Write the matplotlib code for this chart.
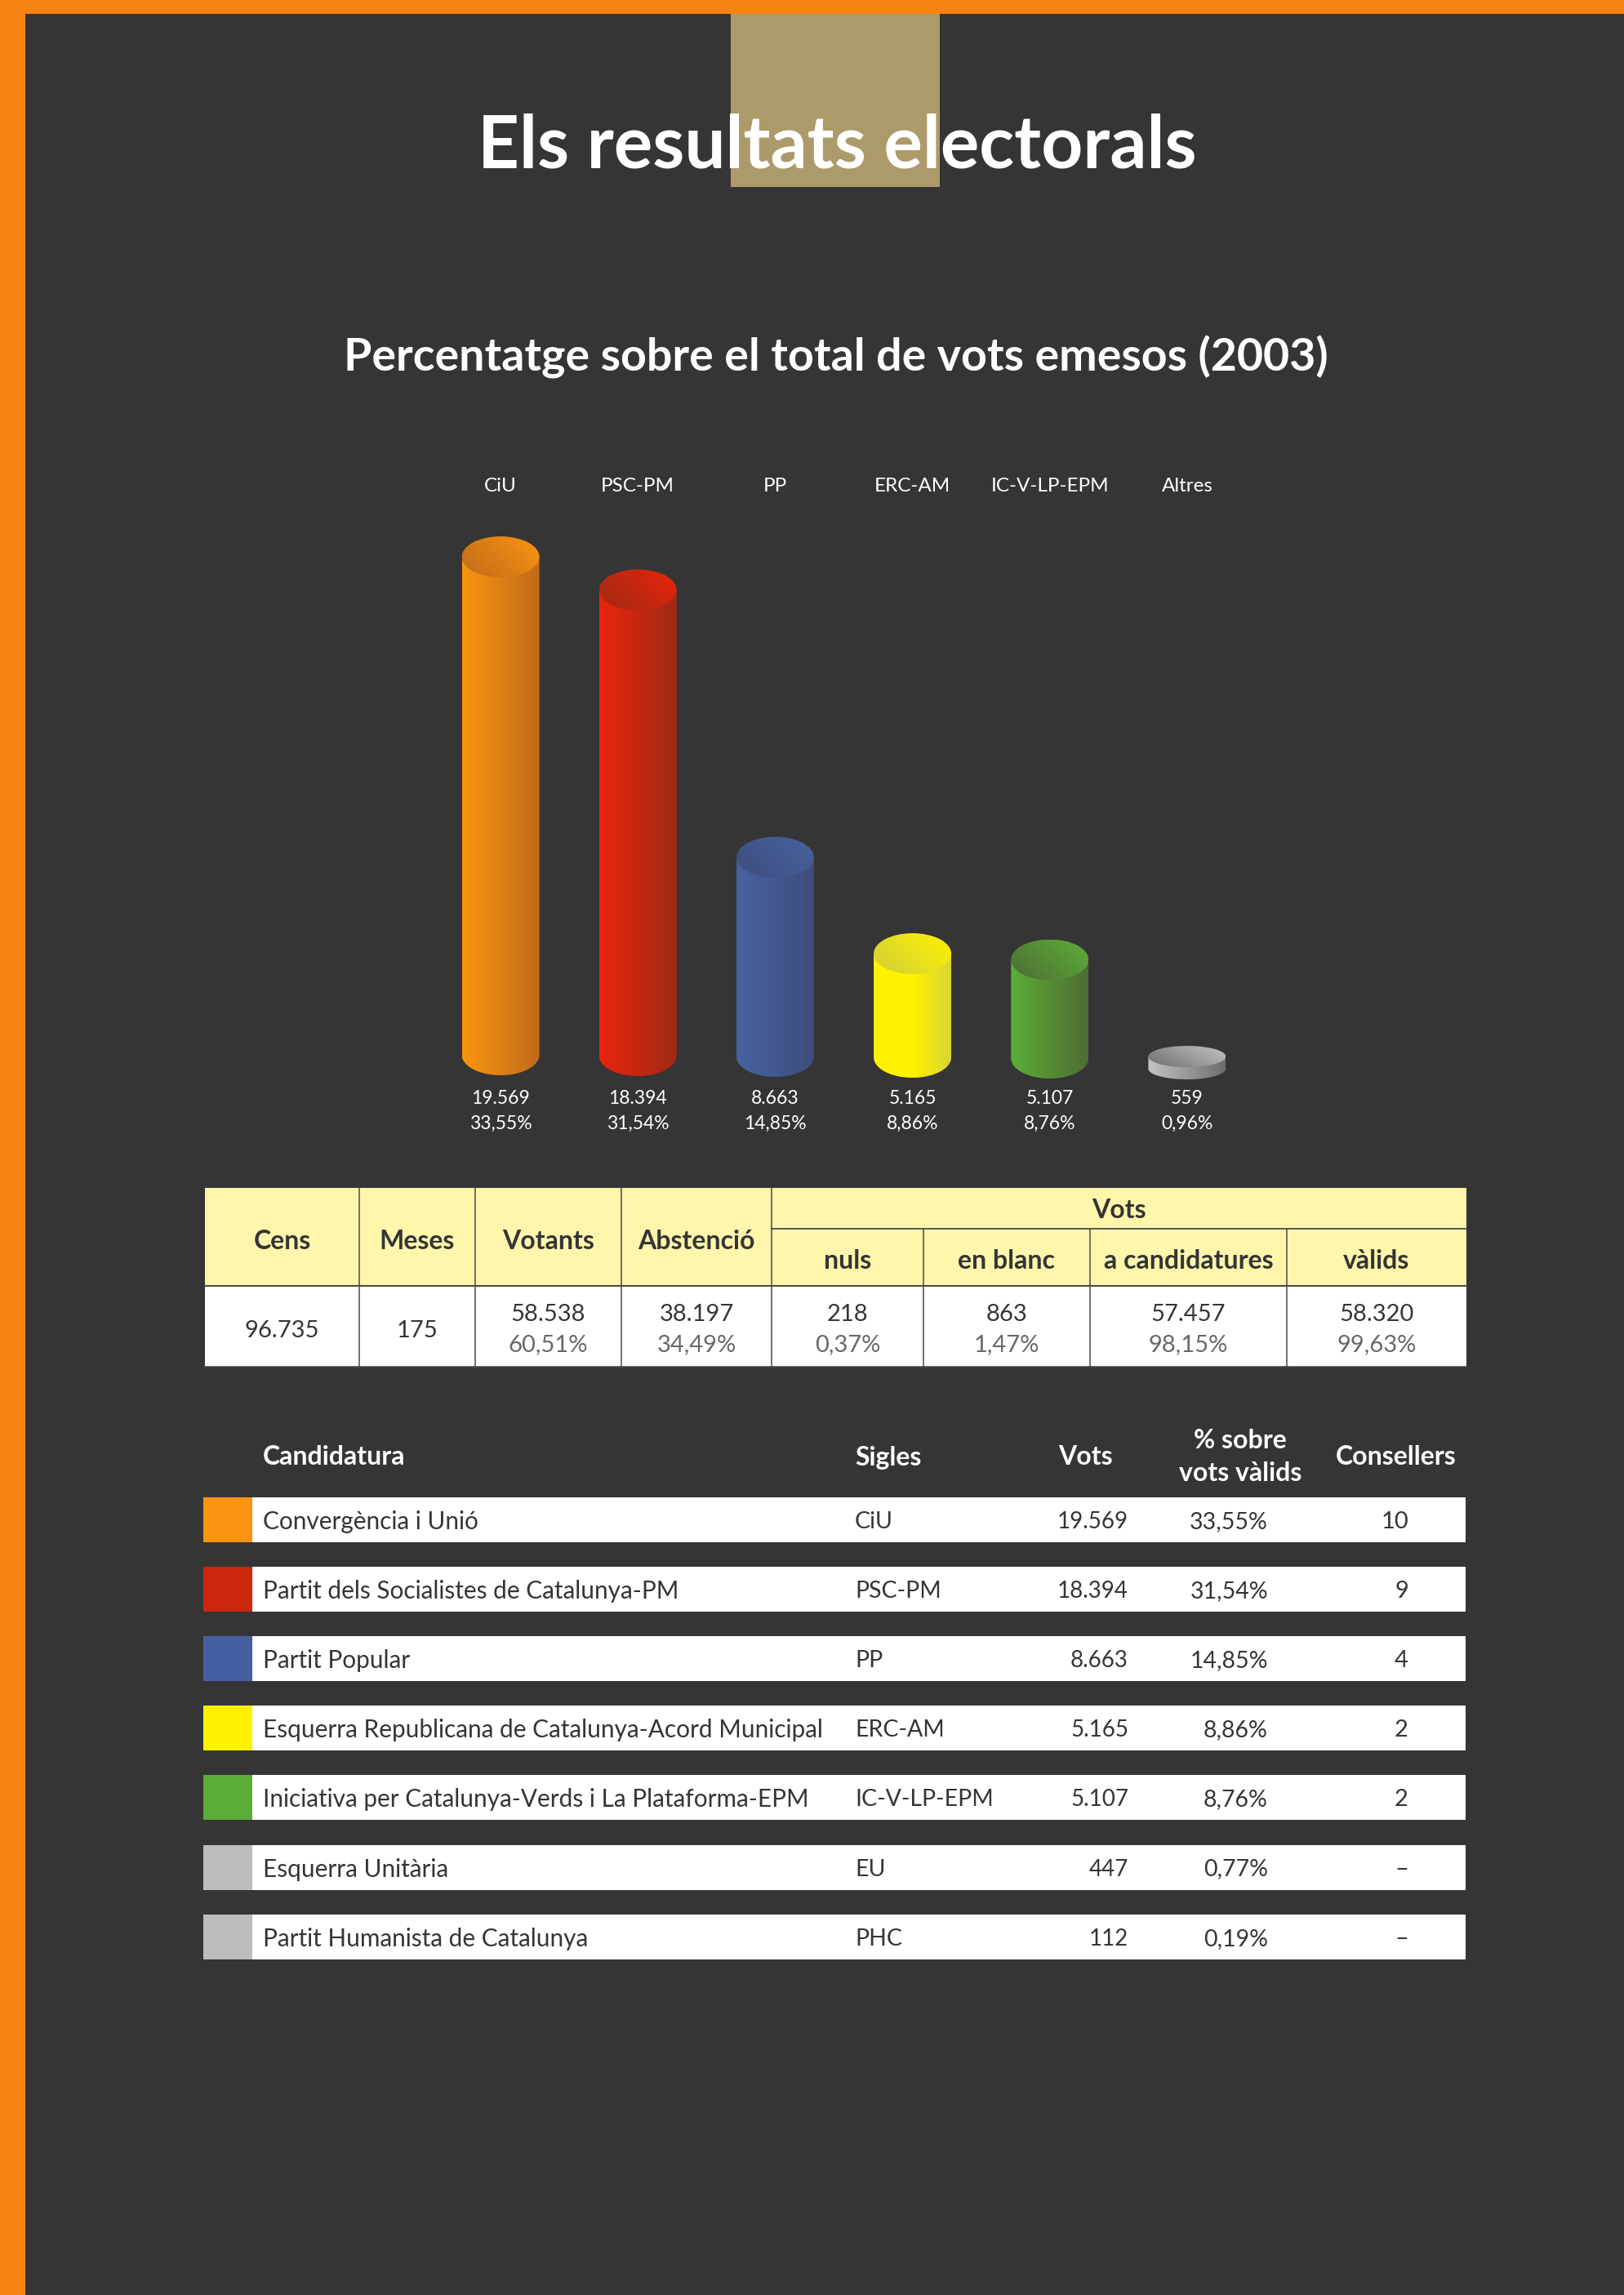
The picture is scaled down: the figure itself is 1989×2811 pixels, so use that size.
import numpy as np
import matplotlib
matplotlib.use('Agg')
import matplotlib.pyplot as plt
from matplotlib.colors import to_rgb
from matplotlib.patches import Rectangle, Ellipse, PathPatch
from matplotlib.path import Path

W, H = 1989, 2811

# Chart data
parties = ['CiU', 'PSC-PM', 'PP', 'ERC-AM', 'IC-V-LP-EPM', 'Altres']
votes = [19569, 18394, 8663, 5165, 5107, 559]
vote_labels = ['19.569', '18.394', '8.663', '5.165', '5.107', '559']
pct_labels = ['33,55%', '31,54%', '14,85%', '8,86%', '8,76%', '0,96%']

# The printed bars are not proportional, this is the scale read off the picture
scale_votes = [0, 559, 5107, 5165, 8663, 19569, 25000]
scale_height = [0, 15, 120.5, 127, 244, 610, 792]

# Summary table
summary_heads = ['Cens', 'Meses', 'Votants', 'Abstenció']
votes_heads = ['nuls', 'en blanc', 'a candidatures', 'vàlids']
summary_main = ['96.735', '175', '58.538', '38.197', '218', '863', '57.457', '58.320']
summary_sub = ['', '', '60,51%', '34,49%', '0,37%', '1,47%', '98,15%', '99,63%']

# Candidates table
names = ['Convergència i Unió', 'Partit dels Socialistes de Catalunya-PM', 'Partit Popular',
         'Esquerra Republicana de Catalunya-Acord Municipal',
         'Iniciativa per Catalunya-Verds i La Plataforma-EPM', 'Esquerra Unitària',
         'Partit Humanista de Catalunya']
sigles = ['CiU', 'PSC-PM', 'PP', 'ERC-AM', 'IC-V-LP-EPM', 'EU', 'PHC']
cand_votes = ['19.569', '18.394', '8.663', '5.165', '5.107', '447', '112']
cand_pct = ['33,55%', '31,54%', '14,85%', '8,86%', '8,76%', '0,77%', '0,19%']
seats = ['10', '9', '4', '2', '2', '–', '–']

# Colours
BG = '#353535'
ORANGE = '#F58211'
TAN = '#AD9A6A'
CREAM = '#FFF6AC'
LINE = '#4A4A4A'
GREY_TEXT = '#68686C'
swatches = ['#FB9410', '#CC260D', '#465FA0', '#FFF200', '#5BAC38', '#BDBDBD', '#BDBDBD']
body_colors = [['#FA9510', '#C26A1C'], ['#EA240C', '#A02A14'], ['#4663A0', '#3E4D7C'],
               ['#FFF200', '#FFF200', '#D8D535'], ['#5BAF38', '#4E6C33'], ['#C4C4C4', '#6E6E72']]
cap_colors = [['#C26A1C', '#FA9510'], ['#A02A14', '#EA240C'], ['#3E4D7C', '#4663A0'],
              ['#D0CE3A', '#FFF200'], ['#4E6C33', '#5BAF38'], ['#6E6E72', '#C4C4C4']]

plt.rcParams['font.family'] = ['Lato', 'DejaVu Sans']


def to_px(vals):
    return np.interp(vals, scale_votes, scale_height)


def from_px(vals):
    return np.interp(vals, scale_height, scale_votes)


def ramp(colors, t):
    stops = np.linspace(0, 1, len(colors))
    rgb = np.array([to_rgb(c) for c in colors])
    return np.stack([np.interp(t, stops, rgb[:, k]) for k in range(3)], axis=-1)


def txt(x, y, s, size, color='white', weight='normal', ha='center'):
    page.text(x, y, s, fontsize=size, color=color, fontweight=weight, ha=ha, va='center')


def cylinder(cx, top, bottom_edge, ry, body, cap):
    rx = 47.5
    base = bottom_edge - ry
    # body with rounded bottom
    a = np.linspace(0, np.pi, 60)
    xs = np.r_[cx - rx, cx + rx, cx + rx * np.cos(a)]
    ys = np.r_[top, top, base + ry * np.sin(a)]
    clip = PathPatch(Path(np.c_[xs, ys]), transform=page.transData, fc='none', ec='none')
    page.add_patch(clip)
    grad = ramp(body, np.linspace(0, 1, 200))[None, :, :]
    im = page.imshow(grad, extent=(cx - rx, cx + rx, bottom_edge, top), aspect='auto', zorder=2)
    im.set_clip_path(clip)
    # top ellipse with diagonal shading
    ell = Ellipse((cx, top), 2 * rx, 2 * ry, transform=page.transData, fc='none', ec='none')
    page.add_patch(ell)
    u, v = np.meshgrid(np.linspace(0, 1, 120), np.linspace(0, 1, 120))
    shade = np.clip(0.65 * u + 0.35 * (1 - v), 0, 1)
    im2 = page.imshow(ramp(cap, shade), extent=(cx - rx, cx + rx, top + ry, top - ry),
                      aspect='auto', zorder=3)
    im2.set_clip_path(ell)


fig = plt.figure(figsize=(W / 100, H / 100), dpi=100, facecolor=BG)
page = fig.add_axes([0, 0, 1, 1])
page.axis('off')

# Frame and title
page.add_patch(Rectangle((0, 0), W, 17, fc=ORANGE, ec='none'))
page.add_patch(Rectangle((0, 0), 31, H, fc=ORANGE, ec='none'))
page.add_patch(Rectangle((895.5, 17), 255.5, 212, fc=TAN, ec='none'))
txt(1025, 179, 'Els resultats electorals', 64, weight='bold')
txt(1024, 437, 'Percentatge sobre el total de vots emesos (2003)', 40, weight='bold')

# Invisible axes that hold the vote scale of the bars
chart = fig.add_axes([529 / W, (H - 1300) / H, 1009 / W, to_px(20000) / H])
chart.set_xlim(-0.5, 5.5)
chart.set_yscale('function', functions=(to_px, from_px))
chart.set_ylim(0, 20000)
chart.axis('off')

for i, party in enumerate(parties):
    x0, y0 = chart.transData.transform((i, 0))
    _, y1 = chart.transData.transform((i, votes[i]))
    cx = x0
    height = y1 - y0
    bottom_edge = 1317 + (cx - 613) * 0.006
    ry = 25 if votes[i] > 1000 else 13
    cylinder(cx, bottom_edge - ry - height, bottom_edge, ry, body_colors[i], cap_colors[i])
    txt(cx, 595, party, 17.5)
    txt(cx, 1346, vote_labels[i], 16.5)
    txt(cx, 1376, pct_labels[i], 16.5)

# Summary table
t_left, t_right = 251, 1796
t_top, t_mid, t_head, t_bot = 1455, 1505, 1575, 1674
cols = [251, 440, 582, 761, 945, 1131, 1335, 1576, 1796]
page.add_patch(Rectangle((t_left, t_top), t_right - t_left, t_head - t_top, fc=CREAM, ec='none', zorder=1))
page.add_patch(Rectangle((t_left, t_head), t_right - t_left, t_bot - t_head, fc='white', ec='none', zorder=1))
for x in cols[1:-1]:
    page.plot([x, x], [t_mid if x > 945 else t_top, t_bot], color=LINE, lw=1.1, zorder=2)
page.plot([945, t_right], [t_mid, t_mid], color=LINE, lw=1.3, zorder=2)
page.plot([t_left, t_right], [t_head, t_head], color=LINE, lw=1.5, zorder=2)
page.plot([t_left, t_right], [t_bot, t_bot], color=LINE, lw=1.1, zorder=2)
centers = [(a + b) / 2 for a, b in zip(cols[:-1], cols[1:])]
for i, head in enumerate(summary_heads):
    txt(centers[i], 1520, head, 23, BG, 'bold')
txt(1370.5, 1483, 'Vots', 23, BG, 'bold')
for i, head in enumerate(votes_heads):
    txt(centers[i + 4], 1544, head, 23, BG, 'bold')
for i, val in enumerate(summary_main):
    if summary_sub[i]:
        txt(centers[i], 1610, val, 21, BG)
        txt(centers[i], 1647, summary_sub[i], 21, GREY_TEXT)
    else:
        txt(centers[i], 1630, val, 21, BG)

# Candidates table
txt(322, 1785, 'Candidatura', 23, weight='bold', ha='left')
txt(1047, 1785, 'Sigles', 23, weight='bold', ha='left')
txt(1329, 1785, 'Vots', 23, weight='bold')
txt(1519, 1765, '% sobre', 23, weight='bold')
txt(1519, 1804, 'vots vàlids', 23, weight='bold')
txt(1710, 1785, 'Consellers', 23, weight='bold')
for i, name in enumerate(names):
    top = 1834 + 85.1 * i
    page.add_patch(Rectangle((309, top), 1795 - 309, 55, fc='white', ec='none', zorder=1))
    page.add_patch(Rectangle((249, top), 60, 55, fc=swatches[i], ec='none', zorder=1))
    y = top + 30
    txt(322, y, name, 21.4, BG, ha='left')
    txt(1047, y, sigles[i], 20.5, BG, ha='left')
    txt(1382, y, cand_votes[i], 20, BG, ha='right')
    txt(1553, y, cand_pct[i], 20.5, BG, ha='right')
    txt(1725, y, seats[i], 21, BG, ha='right')

page.set_xlim(0, W)
page.set_ylim(H, 0)

plt.savefig('out.png', dpi=100, facecolor=BG)
plt.close()
